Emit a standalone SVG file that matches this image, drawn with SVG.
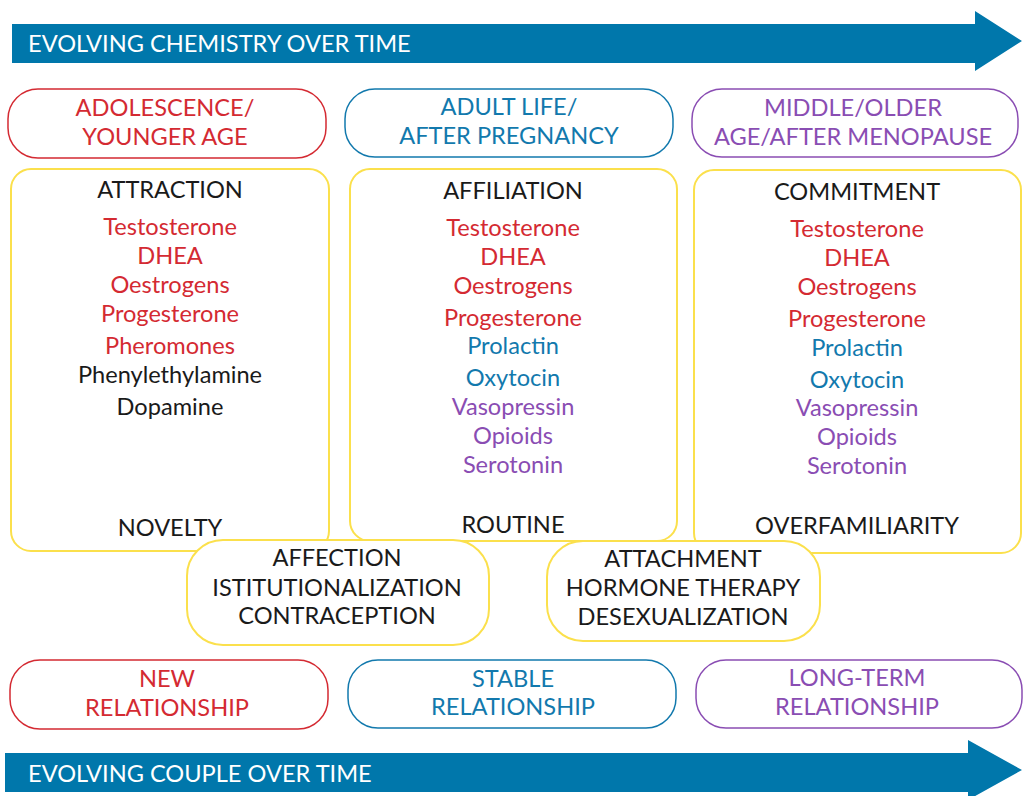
<svg xmlns="http://www.w3.org/2000/svg" width="1023" height="796" viewBox="0 0 1023 796">
<style>
text{font-family:Lato,"Noto Sans","Liberation Sans",sans-serif;font-size:23.6px;font-weight:400;text-anchor:middle}
.t{fill:#ffffff;text-anchor:start}
.k{fill:#1a1a1a}
.r{fill:#d42a32}
.b{fill:#1279ad}
.p{fill:#8a4db3}
.ar{fill:#0077ab}
.hr{fill:#fff;stroke:#d42a32;stroke-width:1.5}
.hb{fill:#fff;stroke:#1279ad;stroke-width:1.5}
.hp{fill:#fff;stroke:#8a4db3;stroke-width:1.5}
.y{fill:#fff;stroke:#fbe04c;stroke-width:2}
</style>
<g id="arrow-top">
<polygon class="ar" points="12,24 975,24 975,11 1022,41 975,71 975,63 12,63"/>
<text class="t" x="28" y="52">EVOLVING CHEMISTRY OVER TIME</text>
</g>
<g id="arrow-bottom">
<polygon class="ar" points="5,753 968,753 968,740 1022,770 968,800 968,792 5,792"/>
<text class="t" x="28" y="782">EVOLVING COUPLE OVER TIME</text>
</g>
<g id="head-1">
<rect class="hr" x="8" y="89" width="318" height="69" rx="30"/>
<text class="r" x="165" y="116">ADOLESCENCE/</text>
<text class="r" x="165" y="145">YOUNGER AGE</text>
</g>
<g id="head-2">
<rect class="hb" x="345" y="89" width="328" height="68" rx="30"/>
<text class="b" x="509" y="115">ADULT LIFE/</text>
<text class="b" x="509" y="144">AFTER PREGNANCY</text>
</g>
<g id="head-3">
<rect class="hp" x="692" y="89" width="326" height="68" rx="30"/>
<text class="p" x="853" y="116">MIDDLE/OLDER</text>
<text class="p" x="853" y="145">AGE/AFTER MENOPAUSE</text>
</g>
<g id="col-1">
<rect class="y" x="11" y="169" width="318" height="382" rx="20"/>
<text class="k" x="170" y="198">ATTRACTION</text>
<text class="r" x="170" y="235">Testosterone</text>
<text class="r" x="170" y="264">DHEA</text>
<text class="r" x="170" y="293">Oestrogens</text>
<text class="r" x="170" y="322">Progesterone</text>
<text class="r" x="170" y="354">Pheromones</text>
<text class="k" x="170" y="383">Phenylethylamine</text>
<text class="k" x="170" y="415">Dopamine</text>
<text class="k" x="170" y="536">NOVELTY</text>
</g>
<g id="col-2">
<rect class="y" x="350" y="169" width="327" height="372" rx="20"/>
<text class="k" x="513" y="199">AFFILIATION</text>
<text class="r" x="513" y="236">Testosterone</text>
<text class="r" x="513" y="265">DHEA</text>
<text class="r" x="513" y="294">Oestrogens</text>
<text class="r" x="513" y="326">Progesterone</text>
<text class="b" x="513" y="354">Prolactin</text>
<text class="b" x="513" y="386">Oxytocin</text>
<text class="p" x="513" y="415">Vasopressin</text>
<text class="p" x="513" y="444">Opioids</text>
<text class="p" x="513" y="473">Serotonin</text>
<text class="k" x="513" y="533">ROUTINE</text>
</g>
<g id="col-3">
<rect class="y" x="694" y="170" width="327" height="383" rx="20"/>
<text class="k" x="857" y="200">COMMITMENT</text>
<text class="r" x="857" y="237">Testosterone</text>
<text class="r" x="857" y="266">DHEA</text>
<text class="r" x="857" y="295">Oestrogens</text>
<text class="r" x="857" y="327">Progesterone</text>
<text class="b" x="857" y="356">Prolactin</text>
<text class="b" x="857" y="388">Oxytocin</text>
<text class="p" x="857" y="416">Vasopressin</text>
<text class="p" x="857" y="445">Opioids</text>
<text class="p" x="857" y="474">Serotonin</text>
<text class="k" x="857" y="534">OVERFAMILIARITY</text>
</g>
<g id="affection">
<rect class="y" x="187" y="540" width="302" height="105" rx="36"/>
<text class="k" x="337" y="566">AFFECTION</text>
<text class="k" x="337" y="596">ISTITUTIONALIZATION</text>
<text class="k" x="337" y="624">CONTRACEPTION</text>
</g>
<g id="attachment">
<rect class="y" x="547" y="541" width="273" height="100" rx="36"/>
<text class="k" x="683" y="567">ATTACHMENT</text>
<text class="k" x="683" y="596">HORMONE THERAPY</text>
<text class="k" x="683" y="625">DESEXUALIZATION</text>
</g>
<g id="rel-1">
<rect class="hr" x="10" y="660" width="318" height="69" rx="30"/>
<text class="r" x="167" y="687">NEW</text>
<text class="r" x="167" y="716">RELATIONSHIP</text>
</g>
<g id="rel-2">
<rect class="hb" x="348" y="660" width="328" height="68" rx="30"/>
<text class="b" x="513" y="687">STABLE</text>
<text class="b" x="513" y="715">RELATIONSHIP</text>
</g>
<g id="rel-3">
<rect class="hp" x="696" y="660" width="326" height="68" rx="30"/>
<text class="p" x="857" y="686">LONG-TERM</text>
<text class="p" x="857" y="715">RELATIONSHIP</text>
</g>
<g id="connectors"></g>
</svg>
